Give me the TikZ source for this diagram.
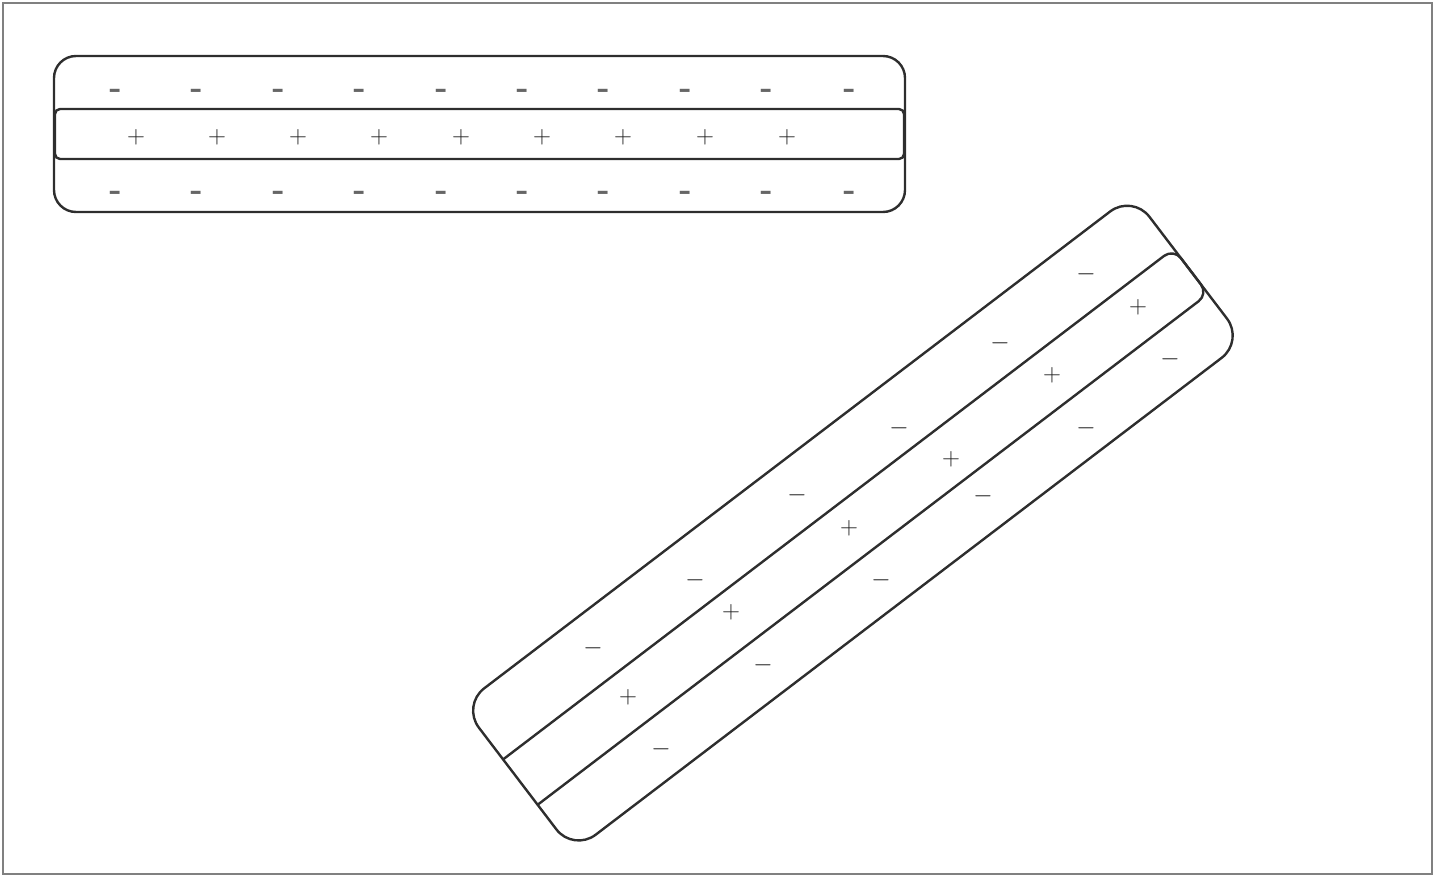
\documentclass[tikz,border=0pt]{standalone}
\usepackage{fontspec}
\newfontfamily\sansf{Liberation Sans}
\begin{document}
\begin{tikzpicture}[x=1pt,y=-1pt,
  bar/.style={draw=black!82, line width=2.4pt},
  frame/.style={draw=black!50, line width=2pt},
  sgn/.style={inner sep=0pt, text=black!88, font=\fontsize{28}{30}\selectfont},
  hyph/.style={inner sep=0pt, anchor=base, text=black!60, font=\sansf\fontsize{40}{42}\selectfont}]
\useasboundingbox (0,0) rectangle (1440,878);
\draw[frame] (3,3) rectangle (1432,874);
% horizontal bar
\draw[bar, rounded corners=22] (54,56) rectangle (905,212);
\draw[bar, rounded corners=5] (55,109) rectangle (904,159);
\foreach \x [count=\i] in {115,196,278,359,441,522,603,685,766,849}{
  \node[hyph] (ht\i) at (\x,101) {-};
  \node[hyph] (hb\i) at (\x,203) {-};
}
\foreach \x [count=\i] in {136,217,298,379,461,542,623,705,787}{
  \node[sgn] (hp\i) at (\x,137) {$+$};
}
% rotated bar
\begin{scope}[rotate=37.3]
  \draw[bar, rounded corners=28] (-60,841) rectangle (783,1025);
  \draw[bar, rounded corners=12] (-60,909) -- (783,909) -- (783,966) -- (-60,966);
\end{scope}
\foreach \p [count=\i] in {(628,697),(731,612),(849,528),(951,459),(1052,375),(1138,307)}{
  \node[sgn] (rp\i) at \p {$+$};
}
\foreach \p [count=\i] in {(593,648),(695,580),(797,495),(899,428),(1000,343),(1086,274)}{
  \node[sgn] (ru\i) at \p {$-$};
}
\foreach \p [count=\i] in {(661,749),(763,665),(881,580),(983,496),(1086,428),(1170,359)}{
  \node[sgn] (rl\i) at \p {$-$};
}
\end{tikzpicture}
\end{document}
